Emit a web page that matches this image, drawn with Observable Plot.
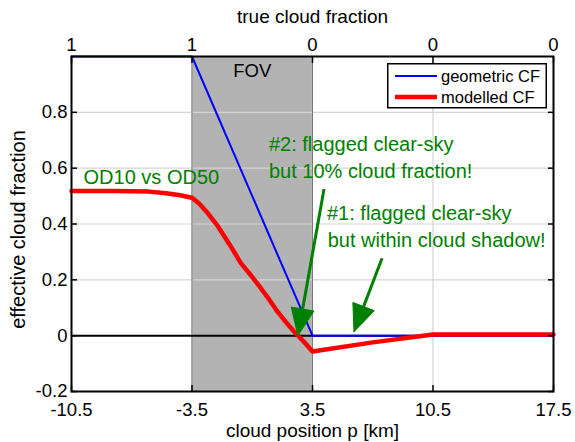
<!DOCTYPE html>
<html>
<head>
<meta charset="utf-8">
<script src="https://cdn.jsdelivr.net/npm/d3@7"></script>
<script src="https://cdn.jsdelivr.net/npm/@observablehq/plot@0.6"></script>
<style>
  html, body { margin: 0; padding: 0; background: #fff; }
  #wrap { position: relative; width: 575px; height: 442px; }
  #legend { position: absolute; left: 387px; top: 63px; }
</style>
</head>
<body>
<div id="wrap"></div>
<script>
// ---------- data ----------
const xTicks = [-10.5, -3.5, 3.5, 10.5, 17.5];
const xTickLabels = ["-10.5", "-3.5", "3.5", "10.5", "17.5"];
const topTickLabels = ["1", "1", "0", "0", "0"];
const yTicks = [-0.2, 0, 0.2, 0.4, 0.6, 0.8];
const yTickLabels = ["-0.2", "0", "0.2", "0.4", "0.6", "0.8"];
const yMax = 1;
const xGrid = [-3.5, 3.5, 10.5];
const yGrid = [0.2, 0.4, 0.6, 0.8];
const fovRange = [-3.5, 3.5];

const seriesNames = ["geometric CF", "modelled CF"];
const seriesColors = ["#0000ff", "#ff0000"];

const geoX = [-10.5, -3.5, 3.5, 17.5];
const geoY = [1, 1, 0, 0];

const modX = [-10.5, -8, -6, -5, -4.2, -3.5, -3.1, -2.6, -2.0, -1.3, -0.66, 0.0, 0.5, 1.0, 1.47, 2.0, 2.44, 3.0, 3.5, 7, 10.5, 14, 17.5];
const modY = [0.518, 0.518, 0.516, 0.510, 0.503, 0.494, 0.474, 0.440, 0.392, 0.325, 0.260, 0.210, 0.170, 0.128, 0.086, 0.045, 0.014, -0.022, -0.057, -0.024, 0.004, 0.004, 0.004];

const arrowTailX = [4.17, 7.54];
const arrowTailY = [0.525, 0.277];
const arrowTipX = [2.65, 5.91];
const arrowTipY = [0.0, 0.014];

const noteText = ["OD10 vs OD50", "#2: flagged clear-sky", "but 10% cloud fraction!", "#1: flagged clear-sky", "but within cloud shadow!"];
const noteX = [-9.8, 0.97, 0.97, 4.34, 4.38];
const noteY = [0.543, 0.661, 0.564, 0.413, 0.316];
const fovLabel = "FOV";
const fovLabelY = 0.927;

const xLabel = "cloud position p [km]";
const yLabel = "effective cloud fraction";
const topLabel = "true cloud fraction";

// ---------- layout ----------
const W = 575, H = 442, mL = 71, mR = 22, mT = 56, mB = 51;
const green = "#008000";
const font = "'Liberation Sans', Arial, Helvetica, sans-serif";

const geo = geoX.map((x, i) => ({x, y: geoY[i]}));
const mod = modX.map((x, i) => ({x, y: modY[i]}));

// arrow geometry (shaft + filled head), computed through scales identical to Plot's
const xs = d3.scaleLinear([xTicks[0], xTicks[xTicks.length - 1]], [mL, W - mR]);
const ys = d3.scaleLinear([yTicks[0], yMax], [H - mB, mT]);
const headLen = 27, headHalf = 11.5;
const shafts = [], heads = [];
arrowTipX.forEach((_, i) => {
  const tx = xs(arrowTipX[i]), ty = ys(arrowTipY[i]);
  const sx = xs(arrowTailX[i]), sy = ys(arrowTailY[i]);
  const L = Math.hypot(tx - sx, ty - sy);
  const ux = (tx - sx) / L, uy = (ty - sy) / L;
  const bx = tx - ux * headLen, by = ty - uy * headLen;
  const px = -uy, py = ux;
  shafts.push({x1: arrowTailX[i], y1: arrowTailY[i], x2: xs.invert(bx + ux * 2), y2: ys.invert(by + uy * 2)});
  [[tx, ty], [bx + px * headHalf, by + py * headHalf], [bx - px * headHalf, by - py * headHalf], [tx, ty]]
    .forEach(([a, b]) => heads.push({id: i, x: xs.invert(a), y: ys.invert(b)}));
});

const lab = (arr, labels) => d => labels[arr.indexOf(d)];

const plot = Plot.plot({
  width: W, height: H,
  marginLeft: mL, marginRight: mR, marginTop: mT, marginBottom: mB,
  x: {domain: [xTicks[0], xTicks[xTicks.length - 1]], axis: null},
  y: {domain: [yTicks[0], yMax], axis: null},
  style: {background: "white", fontFamily: font, fontSize: "18.5px", color: "black"},
  marks: [
    Plot.rect([fovRange], {x1: d => d[0], x2: d => d[1], y1: yTicks[0], y2: yMax, fill: "#b3b3b3"}),
    Plot.ruleY(yGrid, {stroke: "#d4d4d4", strokeWidth: 1.2}),
    Plot.ruleX(xGrid, {stroke: "#d4d4d4", strokeWidth: 1.2}),
    Plot.ruleX(fovRange, {stroke: "#7a7a7a", strokeWidth: 1}),
    Plot.ruleY([0], {stroke: "black", strokeWidth: 2}),
    Plot.line(geo, {x: "x", y: "y", stroke: seriesColors[0], strokeWidth: 2}),
    Plot.line(mod, {x: "x", y: "y", stroke: seriesColors[1], strokeWidth: 4.5}),
    Plot.link(shafts, {x1: "x1", y1: "y1", x2: "x2", y2: "y2", stroke: green, strokeWidth: 3}),
    Plot.line(heads, {x: "x", y: "y", z: "id", fill: green, stroke: green, strokeWidth: 1, curve: "linear"}),
    Plot.text(noteText, {x: (d, i) => noteX[i], y: (d, i) => noteY[i], text: d => d, textAnchor: "start", lineAnchor: "bottom", fill: green, fontSize: 20}),
    Plot.text([fovLabel], {x: d => (fovRange[0] + fovRange[1]) / 2, y: () => fovLabelY, text: d => d, lineAnchor: "bottom", fill: "black", fontSize: 18.5}),
    Plot.frame({stroke: "black", strokeWidth: 2}),
    Plot.axisX(xTicks, {anchor: "bottom", tickSize: -6, tickPadding: 17, strokeWidth: 1.5, tickFormat: lab(xTicks, xTickLabels), label: null, fontSize: 18.5}),
    Plot.axisX(xTicks, {anchor: "top", tickSize: -6, tickPadding: 12, strokeWidth: 1.5, tickFormat: lab(xTicks, topTickLabels), label: null, fontSize: 18.5}),
    Plot.axisY(yTicks, {anchor: "left", tickSize: -6, tickPadding: 10, strokeWidth: 1.5, tickFormat: lab(yTicks, yTickLabels), label: null, fontSize: 18.5}),
    Plot.axisY(yTicks, {anchor: "right", tickSize: -6, tickPadding: 10, strokeWidth: 1.5, tickFormat: () => "", label: null}),
    Plot.text([xLabel], {frameAnchor: "bottom", dy: 45, textAnchor: "middle", lineAnchor: "bottom", fontSize: 19, text: d => d}),
    Plot.text([topLabel], {frameAnchor: "top", dy: -34, textAnchor: "middle", lineAnchor: "bottom", fontSize: 19, text: d => d}),
    Plot.text([yLabel], {frameAnchor: "left", dx: -47, dy: 5.5, rotate: -90, textAnchor: "middle", lineAnchor: "bottom", fontSize: 20, text: d => d})
  ]
});

const wrap = document.getElementById("wrap");
wrap.appendChild(plot);

// legend overlay
const lg = d3.create("svg").attr("id", "legend").attr("width", 160).attr("height", 46)
  .style("font-family", font);
lg.append("rect").attr("x", 0.75).attr("y", 0.75).attr("width", 158.5).attr("height", 44)
  .attr("fill", "white").attr("stroke", "black").attr("stroke-width", 1.5);
seriesNames.forEach((name, i) => {
  const cy = 13 + i * 21;
  lg.append("line").attr("x1", 8).attr("x2", 50).attr("y1", cy).attr("y2", cy)
    .attr("stroke", seriesColors[i]).attr("stroke-width", i === 0 ? 2 : 4.5);
  lg.append("text").attr("x", 54).attr("y", cy + 6).attr("font-size", 16.5).attr("fill", "black").text(name);
});
wrap.appendChild(lg.node());
</script>
</body>
</html>
